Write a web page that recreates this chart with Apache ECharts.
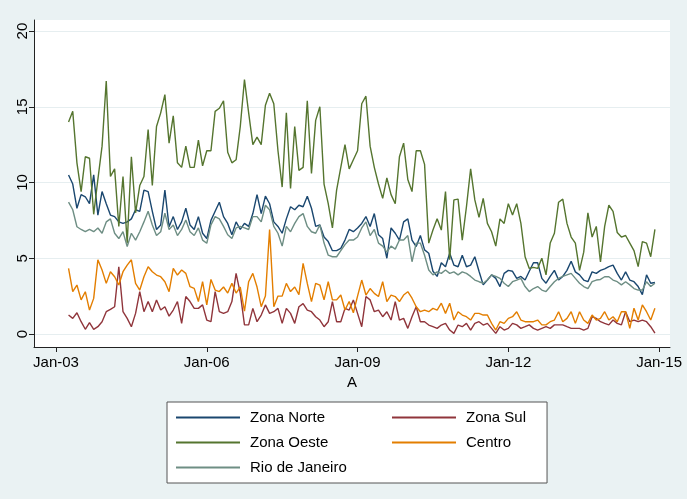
<!DOCTYPE html>
<html>
<head>
<meta charset="utf-8">
<script src="https://cdn.jsdelivr.net/npm/echarts@6/dist/echarts.min.js"></script>
<style>
  html, body { margin: 0; padding: 0; background: #eaf2f3; }
  #main { width: 687px; height: 499px; }
</style>
</head>
<body>
<div id="main"></div>
<script>
// monthly series, Apr 2003 .. Dec 2014 (months counted from Jan 2003)
var firstMonth = 3;

var zonaNorte = [
  10.5, 9.9, 8.3, 9.2, 9.06, 8.6, 10.5, 7.85, 9.4, 8.6, 7.85, 7.75, 7.4, 7.3, 7.4, 7.6, 8.2, 8.1, 9.5, 9.4, 8.1, 6.9, 7.2, 9.5, 7.08, 7.75, 6.9, 7.4, 8.3, 7.2, 6.9, 7.75, 6.65, 6.3,
  7.5, 8.1, 8.7, 7.75, 7.3, 6.55, 7.4, 6.9, 7.3, 7.1, 7.95, 9.2, 7.95, 9.1, 8.6, 7.4, 7.1, 6.65, 7.6, 8.4, 8.2, 8.5, 8.4, 9.1, 8.3, 7.1, 7.2, 6.4, 6.1, 5.5, 5.5, 5.65, 6.2, 6.9, 6.75, 7.0,
  7.3, 7.75, 7.1, 7.95, 6.55, 6.3, 5.0, 7.0, 6.65, 6.2,
  7.4, 7.6, 6.2, 5.77, 6.5, 5.55, 5.33, 4.14, 3.8, 4.7, 4.44, 5.33, 4.55, 4.44, 5.2, 4.44, 4.55, 5.1, 4.14, 3.24, 3.56, 3.9, 3.67, 3.13, 4.0, 4.2, 4.14, 3.67, 3.8, 3.56, 4.14, 4.7, 4.7, 3.67, 3.35, 3.8, 4.2, 3.56, 3.8, 4.2,
  4.8, 4.1, 3.9, 3.56, 3.45, 4.1, 4.0, 4.2, 4.3, 4.45, 4.55, 4.0, 3.56, 4.1, 3.56, 3.45, 3.13, 2.6, 3.9, 3.35, 3.4
];
var zonaSul = [
  1.25, 1.03, 1.4, 0.81, 0.31, 0.75, 0.31, 0.48, 0.81, 1.47, 1.62, 1.8, 4.44, 1.47, 1.03, 0.48, 1.36, 2.79, 1.47, 2.14, 1.47, 2.25, 1.58, 1.8, 1.18, 1.58, 2.14, 0.7, 2.47, 2.14, 1.69, 1.69, 1.92, 0.92,
  0.81, 2.79, 1.47, 1.36, 1.47, 2.14, 4.0, 2.68, 0.6, 0.6, 1.69, 0.81, 1.25, 1.92, 1.36, 1.47, 1.69, 0.7, 1.69, 1.36, 0.7, 1.8, 2.0, 1.58, 1.47, 1.14, 0.92, 0.48, 0.81, 2.14, 0.81, 0.81, 1.69, 1.58, 2.25, 1.36,
  0.48, 2.47, 2.25, 1.47, 1.58, 1.14, 1.47, 0.92, 2.14, 0.92, 1.03, 0.37, 1.14, 1.8, 0.81, 0.81, 0.59, 0.48, 0.37, 0.59, 0.7, 0.26, 0.04, 0.59, 0.48, 0.7, 0.26, 0.7, 0.81, 0.59, 0.7, 0.37, 0.04, 0.48, 0.26, 0.37,
  0.7, 0.6, 0.37, 0.48, 0.6, 0.37, 0.26, 0.37, 0.48, 0.37, 0.6, 0.6, 0.6, 0.48, 0.37, 0.37, 0.37, 0.26, 0.37, 1.14, 1.03, 0.81, 0.7, 0.6, 0.92, 0.7, 0.6, 1.47, 0.81, 0.92, 0.81, 0.92, 0.81, 0.48, 0.05
];
var zonaOeste = [
  14.0, 14.7, 11.3, 9.4, 11.7, 11.6, 7.9, 10.2, 12.4, 16.7, 10.4, 10.9, 7.1, 10.4, 6.0, 11.7, 8.0, 9.8, 10.4, 13.5, 9.8, 13.7, 14.6, 15.8, 12.6, 14.4, 11.3, 11.0, 12.4, 11.0, 11.0, 12.8, 11.1, 12.1,
  12.1, 14.7, 14.9, 15.4, 12.0, 11.3, 11.5, 13.7, 16.8, 14.6, 12.5, 13.0, 12.5, 15.1, 15.9, 15.2, 12.1, 9.7, 14.6, 9.6, 13.7, 10.8, 11.0, 15.4, 10.6, 14.1, 15.0, 9.9, 8.6, 7.0, 9.5, 11.0, 12.5, 10.9, 11.5, 12.1,
  15.2, 15.7, 12.4, 11.0, 9.9, 8.95, 10.3, 9.2, 8.6, 11.7,
  12.6, 10.2, 9.4, 12.1, 12.1, 11.2, 6.0, 6.86, 7.6, 6.86, 9.4, 4.9, 8.85, 8.9, 6.2, 8.4, 10.9, 8.85, 7.7, 8.95, 7.3, 6.75, 5.8, 7.6, 7.3, 8.6, 7.85, 8.6, 7.3, 5.1, 4.33, 4.4, 4.33, 5.0, 3.9, 6.0, 6.65, 8.7, 8.9, 7.3,
  6.4, 6.0, 4.2, 5.4, 8.0, 6.4, 7.1, 4.75, 7.1, 8.5, 8.1, 6.7, 6.4, 6.5, 6.0, 5.5, 4.45, 6.1, 6.0, 5.1, 6.9
];
var centro = [
  4.33, 2.79, 3.23, 2.25, 2.79, 1.58, 2.35, 4.9, 4.22, 3.34, 4.11, 3.78, 3.23, 4.11, 4.55, 4.9, 3.34, 2.9, 3.78, 4.44, 4.11, 3.89, 3.78, 3.45, 2.79, 4.33, 3.89, 4.22, 4.0, 3.12, 3.01, 2.14, 3.45, 1.92,
  3.6, 2.9, 2.8, 3.1, 2.7, 3.34, 2.7, 3.1, 1.5, 3.45, 4.0, 3.1, 1.8, 2.5, 6.9, 1.8, 2.5, 2.5, 3.34, 2.8, 3.1, 2.6, 4.66, 3.34, 2.14, 3.34, 3.23, 2.25, 3.45, 2.25, 2.25, 2.57, 1.58, 2.14, 1.4, 2.5,
  3.56, 2.57, 3.0, 2.68, 2.47, 3.45, 2.14, 2.57, 2.47, 2.14, 2.57, 2.79, 2.36, 1.8, 1.47, 1.58, 1.47, 1.69, 1.58, 2.03, 1.36, 2.03, 0.92, 1.47, 1.25, 1.14, 0.92, 1.36, 1.36, 1.25, 1.25, 0.7, 0.26, 0.81, 0.7, 1.03,
  1.14, 1.47, 0.92, 0.81, 0.81, 0.81, 0.92, 0.6, 0.6, 0.81, 0.92, 1.47, 0.81, 1.03, 1.47, 0.7, 1.47, 0.92, 0.7, 1.25, 0.92, 1.03, 1.47, 0.92, 1.14, 0.81, 1.47, 1.47, 0.37, 1.7, 0.92, 1.92, 1.47, 0.92, 1.7
];
var rioDeJaneiro = [
  8.7, 8.2, 7.08, 6.9, 6.75, 6.9, 6.75, 7.0, 6.65, 7.4, 7.6, 6.65, 6.3, 6.75, 5.77, 6.65, 6.2, 6.75, 7.4, 8.1, 7.2, 6.5, 6.75, 7.97, 6.9, 7.2, 6.5, 6.9, 7.52, 6.75, 6.5, 7.0, 6.2, 5.99,
  7.2, 7.75, 7.6, 7.1, 6.55, 6.3, 7.0, 7.1, 7.0, 6.9, 7.75, 7.75, 7.4, 8.5, 8.2, 7.1, 6.65, 5.8, 7.1, 6.75, 7.3, 7.75, 7.95, 7.1, 6.75, 6.65, 7.2, 6.0, 5.2, 5.1, 5.1, 5.5, 5.9, 6.2, 6.2, 6.4,
  7.0, 7.4, 6.5, 6.9, 6.0, 5.8, 5.4, 5.8, 5.6, 6.2,
  6.2, 6.5, 4.77, 6.0, 6.0, 5.2, 4.22, 3.9, 4.1, 4.0, 4.22, 4.0, 4.1, 3.9, 4.1, 4.0, 3.8, 3.56, 3.45, 3.35, 3.56, 3.9, 3.8, 3.67, 3.35, 3.13, 3.45, 3.56, 3.67, 3.13, 2.8, 3.0, 3.13, 2.9, 2.8, 3.13, 3.45, 3.67, 3.8, 3.9,
  4.0, 3.67, 3.35, 3.13, 3.0, 3.45, 3.56, 3.6, 3.78, 3.78, 3.56, 3.45, 3.24, 3.45, 3.24, 3.0, 2.9, 2.9, 3.45, 3.13, 3.35
];

var xTickMonths = [0, 36, 72, 108, 144];
var xTickLabels = ['Jan-03', 'Jan-06', 'Jan-09', 'Jan-12', 'Jan-15'];
var yTicks = [0, 5, 10, 15, 20];

function toPairs(vals) {
  return vals.map(function (v, i) { return [firstMonth + i, v]; });
}

var chartDom = document.getElementById('main');
var myChart = echarts.init(chartDom);
var font = 'Liberation Sans, Arial, sans-serif';
var leftColumn = ['Zona Norte', 'Zona Oeste', 'Rio de Janeiro'];

var option = {
  animation: false,
  backgroundColor: '#eaf2f3',
  textStyle: { fontFamily: font },
  grid: {
    left: 34, right: 17, top: 20, bottom: 152,
    show: true, backgroundColor: '#ffffff', borderWidth: 0
  },
  xAxis: {
    type: 'value',
    min: -5.25,
    max: 146.6,
    name: 'A',
    nameLocation: 'middle',
    nameGap: 26,
    nameTextStyle: { color: '#000', fontSize: 15, fontFamily: font },
    axisLine: { show: true, onZero: false, lineStyle: { color: '#222', width: 1 } },
    axisTick: { show: true, length: 5, customValues: xTickMonths, lineStyle: { color: '#222' } },
    axisLabel: {
      customValues: xTickMonths,
      margin: 8,
      color: '#000',
      fontSize: 15,
      fontFamily: font,
      formatter: function (v) { return xTickLabels[xTickMonths.indexOf(v)]; }
    },
    splitLine: { show: false }
  },
  yAxis: {
    type: 'value',
    min: -0.86,
    max: 20.73,
    axisLine: { show: true, onZero: false, lineStyle: { color: '#222', width: 1 } },
    axisTick: { show: true, length: 5, customValues: yTicks, lineStyle: { color: '#222' } },
    axisLabel: {
      customValues: yTicks,
      rotate: 90,
      margin: 4,
      color: '#000',
      fontSize: 15,
      fontFamily: font
    },
    splitLine: { show: true, lineStyle: { color: '#e6eef0', width: 1 } }
  },
  legend: {
    left: 167,
    top: 402,
    width: 420,
    orient: 'horizontal',
    icon: 'rect',
    itemWidth: 64,
    itemHeight: 2,
    itemGap: 0,
    padding: [3, 21, 3, 9],
    backgroundColor: '#ffffff',
    borderColor: '#555',
    borderWidth: 1,
    formatter: function (name) {
      return leftColumn.indexOf(name) >= 0 ? '{w|' + name + '}' : name;
    },
    textStyle: {
      fontSize: 15, color: '#000', fontFamily: font, lineHeight: 25, padding: [0, 0, 0, 5],
      rich: { w: { width: 142, fontSize: 15, color: '#000', fontFamily: font, lineHeight: 25 } }
    },
    data: ['Zona Norte', 'Zona Sul', 'Zona Oeste', 'Centro', 'Rio de Janeiro']
  },
  series: [
    { name: 'Zona Norte', type: 'line', symbol: 'none', data: toPairs(zonaNorte), lineStyle: { color: '#1a476f', width: 1.4 }, itemStyle: { color: '#1a476f' } },
    { name: 'Zona Sul', type: 'line', symbol: 'none', data: toPairs(zonaSul), lineStyle: { color: '#90353b', width: 1.4 }, itemStyle: { color: '#90353b' } },
    { name: 'Zona Oeste', type: 'line', symbol: 'none', data: toPairs(zonaOeste), lineStyle: { color: '#55752f', width: 1.4 }, itemStyle: { color: '#55752f' } },
    { name: 'Centro', type: 'line', symbol: 'none', data: toPairs(centro), lineStyle: { color: '#e37e00', width: 1.4 }, itemStyle: { color: '#e37e00' } },
    { name: 'Rio de Janeiro', type: 'line', symbol: 'none', data: toPairs(rioDeJaneiro), lineStyle: { color: '#6e8e84', width: 1.4 }, itemStyle: { color: '#6e8e84' } }
  ]
};

if (chartDom && myChart) {
  myChart.setOption(option);
} else {
  console.error('Failed to initialize the chart');
}
</script>
</body>
</html>
